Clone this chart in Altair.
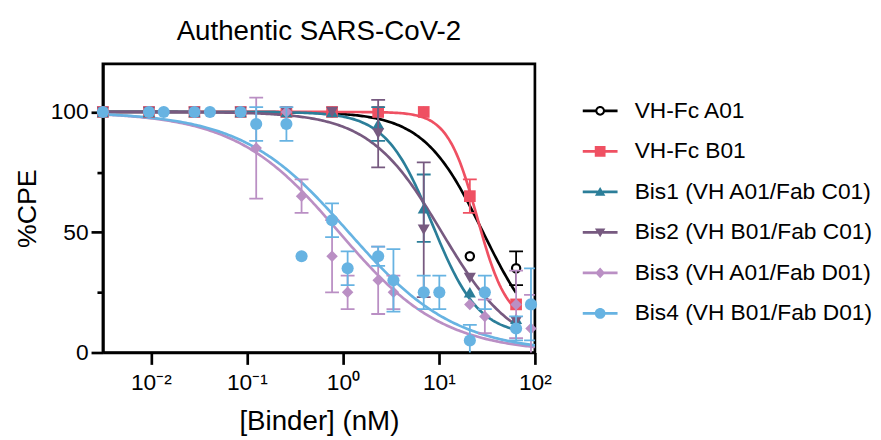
import altair as alt
import pandas as pd

FONT = "Liberation Sans"

SERIES = [
    "VH-Fc A01",
    "VH-Fc B01",
    "Bis1 (VH A01/Fab C01)",
    "Bis2 (VH B01/Fab C01)",
    "Bis3 (VH A01/Fab D01)",
    "Bis4 (VH B01/Fab D01)",
]
COLORS = ["#000000", "#EF5062", "#2B7E99", "#775A80", "#BA8FC4", "#67B3E2"]

# concentrations (nM), two 3-fold dilution series
X_SET1 = [0.00316, 0.00955, 0.0284, 0.0861, 0.258, 0.771, 2.33, 6.95, 21.0, 63.7]
X_ALL = [0.00316, 0.00955, 0.0136, 0.0284, 0.0412, 0.0861, 0.125, 0.258, 0.371,
         0.771, 1.12, 2.33, 3.36, 6.95, 10.1, 21.0, 30.1, 63.7, 91.0]

Y_A01 = [100, 100, 100, 100, 100, 100, 100, 100, 40, 35]
E_A01 = [0, 0, 0, 0, 0, 0, 0, 0, 0, 7]
Y_B01 = [100, 100, 100, 100, 100, 100, 100, 100, 65, 20]
E_B01 = [0, 0, 0, 0, 0, 0, 0, 0, 7, 0]
Y_BIS1 = [100, 100, 100, 100, 100, 100, 95, 60, 25, 14]
E_BIS1 = [0, 0, 0, 0, 0, 0, 7, 14, 0, 0]
Y_BIS2 = [100, 100, 100, 100, 100, 100, 91, 51, 31, 13]
E_BIS2 = [0, 0, 0, 0, 0, 0, 14, 28, 0, 0]
Y_BIS3 = [100, 100, 100, 100, 100, 100, 85, 100, 65, 40, 25, 30, 25, 25, 25, 20, 15, 20, 10]
E_BIS3 = [0, 0, 0, 0, 0, 0, 21, 0, 7, 15, 7, 14, 7, 0, 0, 0, 7, 14, 14]
Y_BIS4 = [100, 100, 100, 100, 100, 100, 95, 95, 40, 55, 35, 40, 30, 25, 25, 5, 25, 10, 20]
E_BIS4 = [0, 0, 0, 0, 0, 0, 7, 7, 0, 7, 7, 4, 13, 7, 7, 6.5, 7, 5, 15]

# fitted dose-response curve parameters
FIT_TOP = [100, 100, 100, 100, 100, 100]
FIT_BOTTOM = [0, 12, 7, 0, 0, 0]
FIT_LOGIC50 = [1.46, 1.40, 0.93, 1.03, -0.04, 0.06]
FIT_HILL = [1.4, 2.8, 1.8, 1.15, 0.8, 0.78]
FIT_LOGX_MIN = [-2.5, -2.5, -2.5, -2.5, -2.5, -2.5]
FIT_LOGX_MAX = [1.804, 1.804, 1.804, 1.804, 2.0, 2.0]

X_TICKS = [0.01, 0.1, 1, 10, 100]
X_TICK_LABELS = ["10⁻²", "10⁻¹", "10⁰", "10¹", "10²"]
Y_TICKS = [0, 25, 50, 75, 100]

DATASETS = [
    (SERIES[0], X_SET1, Y_A01, E_A01),
    (SERIES[1], X_SET1, Y_B01, E_B01),
    (SERIES[2], X_SET1, Y_BIS1, E_BIS1),
    (SERIES[3], X_SET1, Y_BIS2, E_BIS2),
    (SERIES[4], X_ALL, Y_BIS3, E_BIS3),
    (SERIES[5], X_ALL, Y_BIS4, E_BIS4),
]

rows = []
for name, xs, ys, es in DATASETS:
    for xv, yv, ev in zip(xs, ys, es):
        rows.append({"series": name, "x": xv, "y": yv, "err": ev,
                     "lo": yv - ev, "hi": yv + ev})
points = pd.DataFrame(rows)
errs = points[points["err"] > 0].reset_index(drop=True)

curves = pd.DataFrame({
    "series": SERIES, "top": FIT_TOP, "bottom": FIT_BOTTOM,
    "logic50": FIT_LOGIC50, "hill": FIT_HILL,
    "lmin": FIT_LOGX_MIN, "lmax": FIT_LOGX_MAX,
})

# ---- scales / axes ----
xscale = alt.Scale(type="log", domain=[10 ** -2.5, 100], nice=False)
yscale = alt.Scale(domain=[0, 120], nice=False)

label_expr = " : ".join(
    [f"datum.value < {t * 3.0} ? '{lab}'" for t, lab in zip(X_TICKS[:-1], X_TICK_LABELS[:-1])]
) + f" : '{X_TICK_LABELS[-1]}'"

xaxis = alt.Axis(
    title="[Binder] (nM)", values=X_TICKS, labelExpr=label_expr,
    grid=False, tickSize=12, labelPadding=7, labelFontSize=23,
    titleFontSize=28, titlePadding=14, labelFlush=False, labelOverlap=False,
)
yaxis = alt.Axis(
    title="%CPE", values=Y_TICKS,
    labelExpr="datum.value % 50 === 0 ? datum.label : ''",
    grid=False,
    tickSize={"condition": {"test": "datum.value % 50 === 0", "value": 12}, "value": 6},
    labelPadding=3, labelFontSize=23, titleFontSize=27, titlePadding=9,
)


def X(field="x"):
    return alt.X(f"{field}:Q", scale=xscale, axis=xaxis)


def Y(field="y"):
    return alt.Y(f"{field}:Q", scale=yscale, axis=yaxis)


layers = []

# ---- fitted curves (one layer per series, fixed colour) ----
for name, color in zip(SERIES, COLORS):
    layers.append(
        alt.Chart(curves)
        .transform_filter(alt.datum.series == name)
        .transform_calculate(t="sequence(0, 1.0001, 0.004)")
        .transform_flatten(["t"])
        .transform_calculate(lx="datum.lmin + datum.t * (datum.lmax - datum.lmin)")
        .transform_calculate(
            xc="pow(10, datum.lx)",
            yc="datum.bottom + (datum.top - datum.bottom) / (1 + pow(10, datum.hill * (datum.lx - datum.logic50)))",
        )
        .mark_line(strokeWidth=2.7, color=color)
        .encode(x=X("xc"), y=Y("yc"), order="t:Q")
    )

SHAPES = ["circle", "square", "triangle-up", "triangle-down", "diamond", "circle"]
SIZES = [70, 140, 150, 150, 135, 150]

for name, color, shape, size in zip(SERIES, COLORS, SHAPES, SIZES):
    e = alt.Chart(errs).transform_filter(alt.datum.series == name)
    layers.append(
        e.mark_rule(color=color, strokeWidth=1.8, clip=True).encode(x=X(), y=Y("lo"), y2="hi:Q")
    )
    for end in ["lo", "hi"]:
        layers.append(
            e.mark_rule(color=color, strokeWidth=1.8, clip=True, xOffset=-7, x2Offset=7)
            .encode(x=X(), x2="x:Q", y=Y(end))
        )
    p = alt.Chart(points).transform_filter(alt.datum.series == name)
    if name == SERIES[0]:
        mk = p.mark_point(shape=shape, size=size, filled=True, fill="white",
                          stroke=color, strokeWidth=2.2, opacity=1)
    else:
        mk = p.mark_point(shape=shape, size=size, filled=True, color=color, opacity=1)
    layers.append(mk.encode(x=X(), y=Y()))


# ---- legend (line + marker symbols) ----
def f(v):
    return f"{v:.3f}"


def bars(inner, h=0.17, outer=2.2):
    return (f"M {f(-outer)} {f(-h)} L {f(-inner)} {f(-h)} L {f(-inner)} {f(h)} L {f(-outer)} {f(h)} Z "
            f"M {f(inner)} {f(-h)} L {f(outer)} {f(-h)} L {f(outer)} {f(h)} L {f(inner)} {f(h)} Z ")


def circle_cw(r):
    return f"M {f(-r)} 0 A {f(r)} {f(r)} 0 1 1 {f(r)} 0 A {f(r)} {f(r)} 0 1 1 {f(-r)} 0 Z "


def circle_ccw(r):
    return f"M {f(-r)} 0 A {f(r)} {f(r)} 0 1 0 {f(r)} 0 A {f(r)} {f(r)} 0 1 0 {f(-r)} 0 Z "


LEGEND_PATHS = [
    bars(0.5) + circle_cw(0.62) + circle_ccw(0.36),
    bars(0.3) + "M -0.68 -0.68 L 0.68 -0.68 L 0.68 0.68 L -0.68 0.68 Z",
    bars(0.3) + "M 0 -0.62 L 0.66 0.5 L -0.66 0.5 Z",
    bars(0.3) + "M 0 0.62 L -0.66 -0.5 L 0.66 -0.5 Z",
    bars(0.3) + "M 0 -0.68 L 0.62 0 L 0 0.68 L -0.62 0 Z",
    bars(0.3) + circle_cw(0.68),
]

leg = alt.Legend(
    title=None, orient="none", legendX=491.5, legendY=36, padding=0,
    symbolSize=256, symbolOpacity=1, symbolStrokeWidth=0,
    labelFont=FONT, labelFontSize=23, labelColor="black", labelLimit=500,
    labelOffset=23.4, rowPadding=17,
)

# legend-only layer: no rows are drawn, entries come from the explicit scale domains
legend_layer = (
    alt.Chart(points)
    .transform_filter("false")
    .mark_point(filled=True, size=1)
    .encode(
        x=X(), y=Y(),
        color=alt.Color("series:N", scale=alt.Scale(domain=SERIES, range=COLORS), legend=leg, title=None),
        shape=alt.Shape("series:N", scale=alt.Scale(domain=SERIES, range=LEGEND_PATHS), legend=leg, title=None),
    )
)
layers.append(legend_layer)

chart = (
    alt.layer(*layers)
    .properties(
        width=437, height=292,
        padding={"left": 5, "top": 8, "right": 0, "bottom": 0},
        title=alt.TitleParams("Authentic SARS-CoV-2", fontSize=28, font=FONT,
                              fontWeight="normal", color="black", anchor="middle",
                              frame="group", offset=18),
    )
    .configure_view(stroke="black", strokeWidth=2.7)
    .configure_axis(
        domainColor="black", domainWidth=2.7, tickColor="black", tickWidth=2.7,
        labelColor="black", titleColor="black", labelFont=FONT, titleFont=FONT,
        titleFontWeight="normal",
    )
)

chart.save("out.html", embed_options={"renderer": "svg", "actions": False})
